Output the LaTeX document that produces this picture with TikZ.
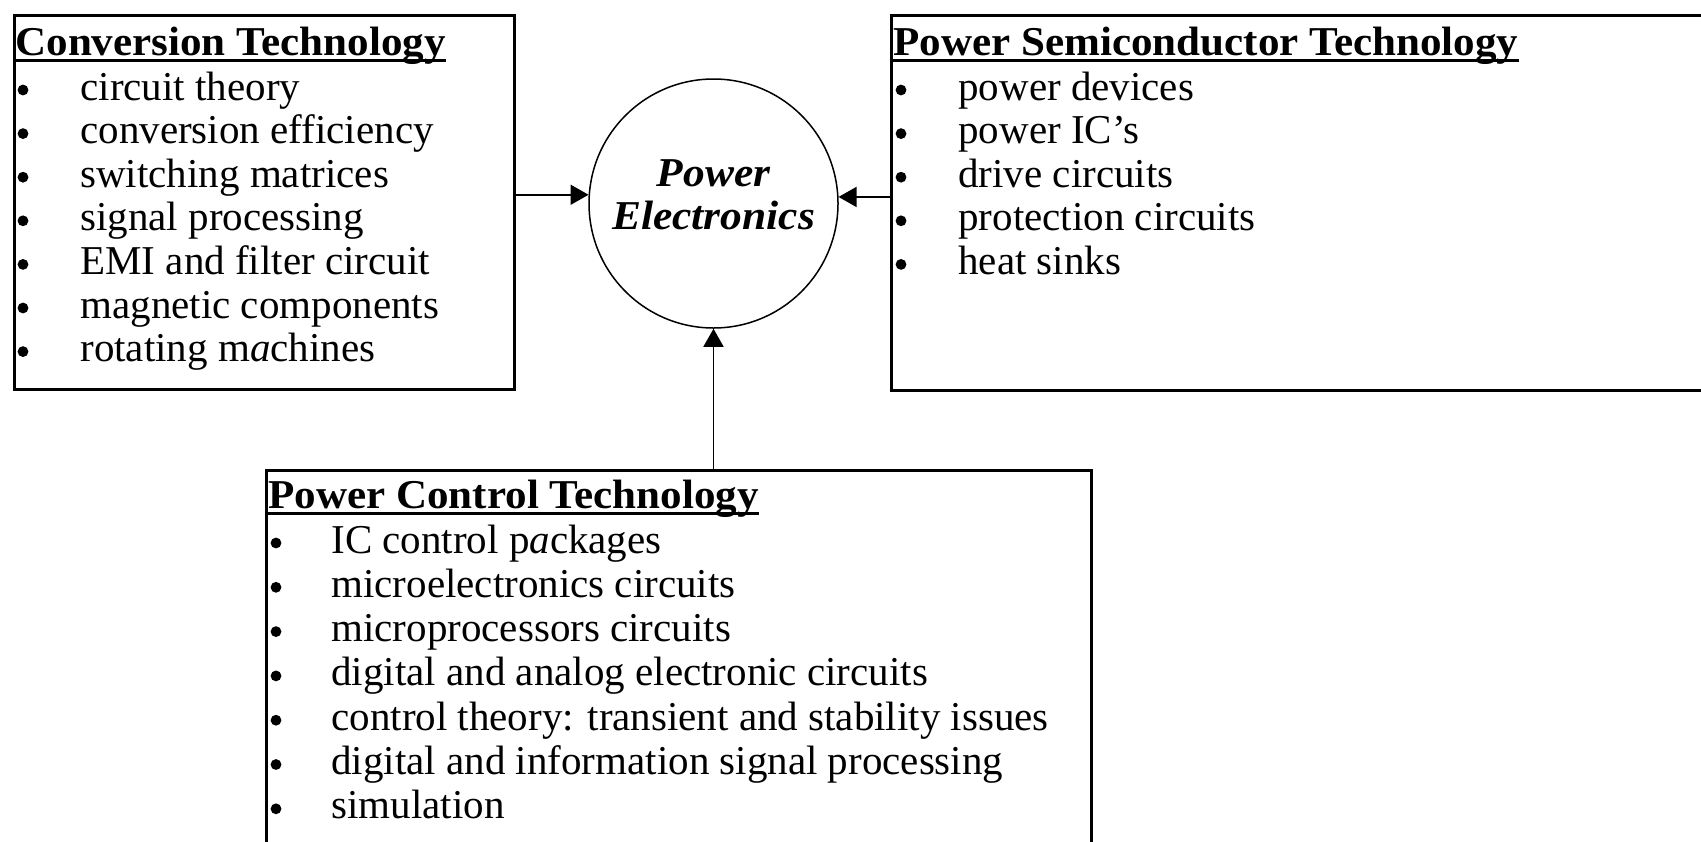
\documentclass[tikz,border=0pt]{standalone}
\usepackage{fontspec}
\setmainfont{Liberation Serif}[BoldFeatures={FakeStretch=1.05},BoldItalicFeatures={FakeStretch=1.06}]
\usetikzlibrary{arrows.meta}
\tikzset{
  box/.style={draw, line width=1.5pt, rectangle, inner sep=0pt, anchor=north west},
  txt/.style={anchor=base west, inner sep=0pt, font=\fontsize{20.5}{21.8}\selectfont},
  bul/.style={circle, fill, inner sep=0pt, minimum size=5.4pt},
  head/.style={anchor=base west, inner sep=0pt, font=\fontsize{20.5}{21.8}\selectfont\bfseries},
  uline/.style={line width=1.5pt},
  pecircle/.style={draw, circle, line width=0.75pt, minimum size=124.5pt, inner sep=0pt},
  petext/.style={align=center, inner sep=0pt, font=\fontsize{20.5}{21.5}\selectfont\bfseries\itshape},
  conn/.style={line width=0.8pt, -{Triangle[length=9pt,width=10pt]}},
}
\begin{document}
\begin{tikzpicture}[x=0.5pt,y=-0.5pt]
\useasboundingbox (0,0) rectangle (1701,841);
\clip (0,0) rectangle (1701,841);
% boxes
\node[box, minimum width=250pt, minimum height=187pt] (cbox) at (12.5,14) {};
\node[box, minimum width=420pt, minimum height=187.5pt] (sbox) at (890,14) {};
\node[box, minimum width=412.5pt, minimum height=210pt] (pbox) at (265,469) {};
% centre circle
\node[pecircle] (pe) at (713.5,203.5) {};
\node[petext] (pet) at (713.5,195) {Power\\Electronics};
% headings
\node[head] (hc) at (15,55) {Conversion Technology};
\node[head] (hs) at (893,55) {Power Semiconductor Technology};
\node[head] (hp) at (268,508) {Power Control Technology};
\foreach \h in {hc,hs,hp}
  \draw[uline] ([yshift=-2.8pt]\h.base west) -- ([yshift=-2.8pt]\h.base east);
% conversion list
\foreach \t [count=\i] in {circuit theory, conversion efficiency, switching matrices,
  signal processing, EMI and filter circuit, magnetic components, {rotating m\textit{a}chines}} {
  \node[bul] (cb\i) at (23,{90+43.6*(\i-1)}) {};
  \node[txt] (c\i) at (80,{100+43.6*(\i-1)}) {\t};
}
% semiconductor list
\foreach \t [count=\i] in {power devices, power IC's, drive circuits, protection circuits, heat sinks} {
  \node[bul] (sb\i) at (901,{90+43.6*(\i-1)}) {};
  \node[txt] (s\i) at (958,{100+43.6*(\i-1)}) {\t};
}
% control list
\foreach \t [count=\i] in {{IC control p\textit{a}ckages}, microelectronics circuits, microprocessors circuits,
  digital and analog electronic circuits, control theory: transient and stability issues,
  digital and information signal processing, simulation} {
  \node[bul] (pb\i) at (276,{543+44.3*(\i-1)}) {};
  \node[txt] (p\i) at (331,{553+44.3*(\i-1)}) {\t};
}
% connectors
\draw[conn] (cbox.east |- pe.176.5) -- (pe.176.5);
\draw[conn] (sbox.west |- pe.3.5) -- (pe.3.5);
\draw[conn] (pe.south |- pbox.north) -- (pe.south);
\end{tikzpicture}
\end{document}
